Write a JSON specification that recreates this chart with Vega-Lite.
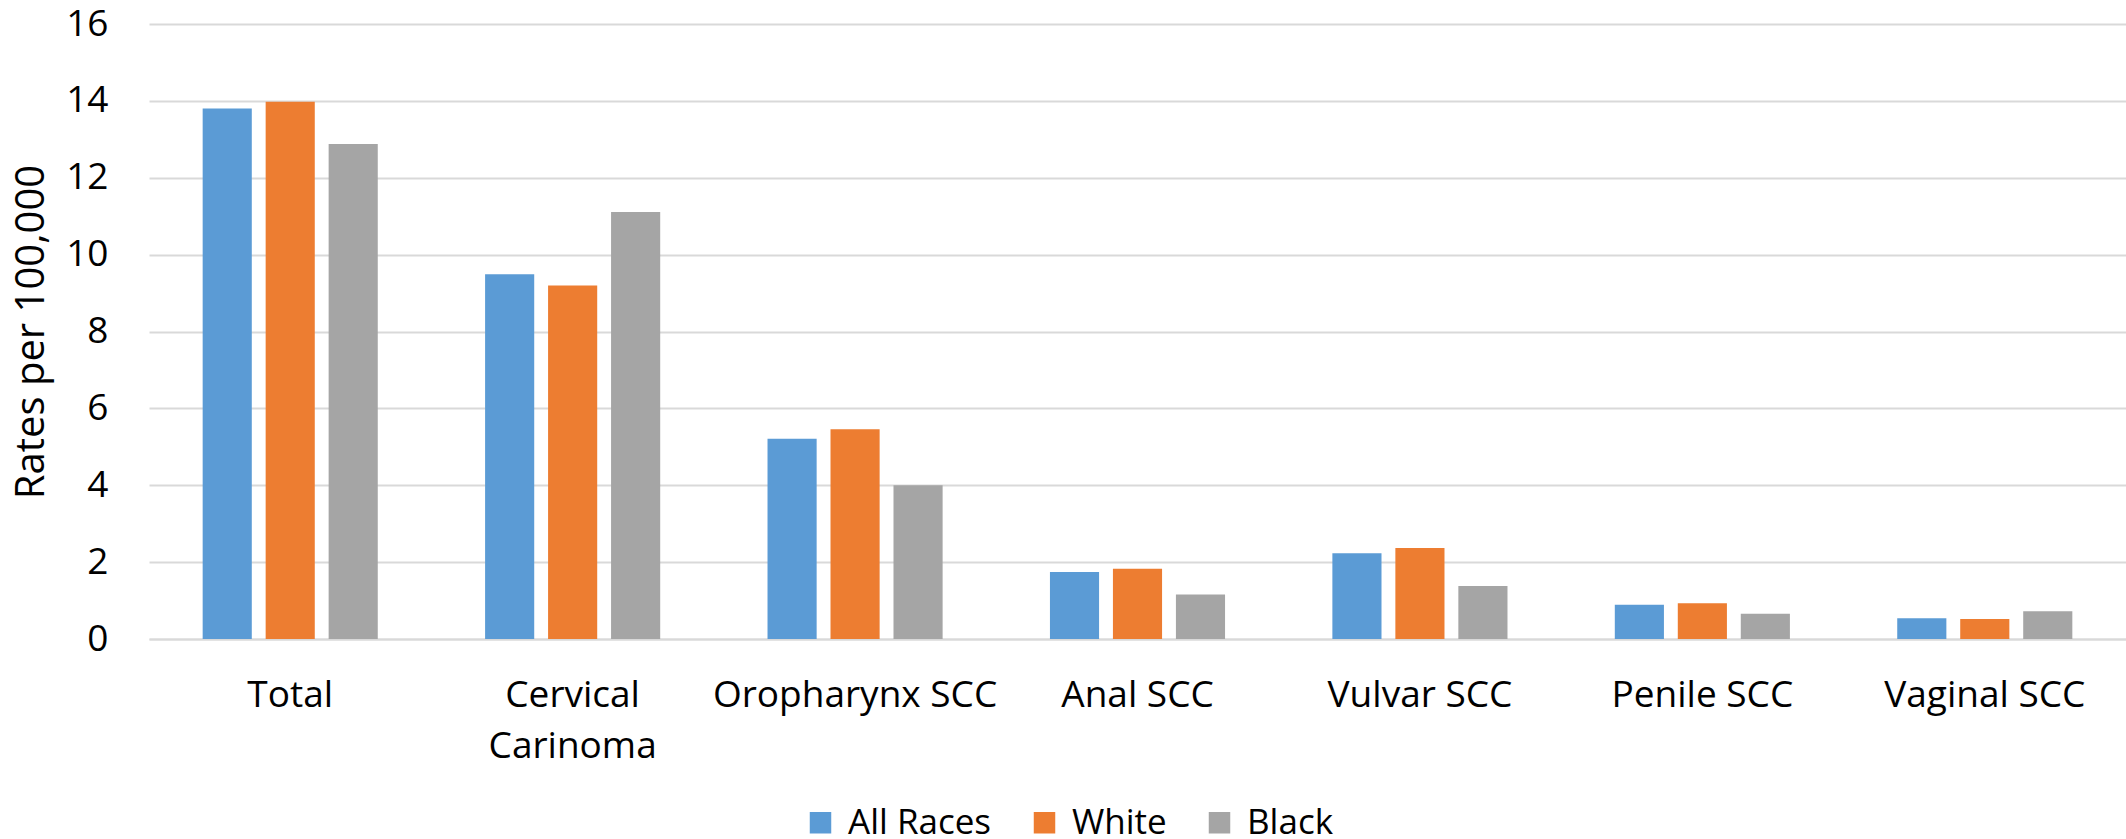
{
  "$schema": "https://vega.github.io/schema/vega-lite/v6.json",
  "width": 1977,
  "height": 615,
  "autosize": {"type": "none"},
  "padding": {"left": 149, "top": 24, "right": 0, "bottom": 200},
  "background": "white",
  "config": {"view": {"stroke": null}, "font": "Open Sans"},
  "data": {"values": [
    {"cat": "Total", "race": "All Races", "rate": 13.8},
    {"cat": "Total", "race": "White", "rate": 13.98},
    {"cat": "Total", "race": "Black", "rate": 12.88},
    {"cat": "Cervical Carinoma", "race": "All Races", "rate": 9.49},
    {"cat": "Cervical Carinoma", "race": "White", "rate": 9.2},
    {"cat": "Cervical Carinoma", "race": "Black", "rate": 11.11},
    {"cat": "Oropharynx SCC", "race": "All Races", "rate": 5.21},
    {"cat": "Oropharynx SCC", "race": "White", "rate": 5.46},
    {"cat": "Oropharynx SCC", "race": "Black", "rate": 4.0},
    {"cat": "Anal SCC", "race": "All Races", "rate": 1.74},
    {"cat": "Anal SCC", "race": "White", "rate": 1.83},
    {"cat": "Anal SCC", "race": "Black", "rate": 1.16},
    {"cat": "Vulvar SCC", "race": "All Races", "rate": 2.23},
    {"cat": "Vulvar SCC", "race": "White", "rate": 2.37},
    {"cat": "Vulvar SCC", "race": "Black", "rate": 1.38},
    {"cat": "Penile SCC", "race": "All Races", "rate": 0.89},
    {"cat": "Penile SCC", "race": "White", "rate": 0.93},
    {"cat": "Penile SCC", "race": "Black", "rate": 0.66},
    {"cat": "Vaginal SCC", "race": "All Races", "rate": 0.54},
    {"cat": "Vaginal SCC", "race": "White", "rate": 0.52},
    {"cat": "Vaginal SCC", "race": "Black", "rate": 0.72}
  ]},
  "mark": {"type": "bar"},
  "encoding": {
    "x": {
      "field": "cat", "type": "nominal", "sort": null,
      "scale": {"paddingInner": 0.38, "paddingOuter": 0.19},
      "axis": {
        "title": null, "labelAngle": 0, "ticks": false,
        "domainColor": "#d9d9d9", "domainWidth": 2,
        "labelFontSize": 37, "labelColor": "#000000", "labelPadding": 38,
        "labelLineHeight": 51, "labelLimit": 500,
        "labelExpr": "datum.label == 'Cervical Carinoma' ? ['Cervical', 'Carinoma'] : datum.label"
      }
    },
    "xOffset": {
      "field": "race", "type": "nominal", "sort": ["All Races", "White", "Black"],
      "scale": {"paddingInner": 0.22, "paddingOuter": 0}
    },
    "y": {
      "field": "rate", "type": "quantitative",
      "scale": {"domain": [0, 16]},
      "axis": {
        "title": "Rates per 100,000", "titleFontSize": 40, "titleFontWeight": "normal",
        "titleColor": "#000000", "titlePadding": 14,
        "values": [0, 2, 4, 6, 8, 10, 12, 14, 16], "labelOverlap": false,
        "ticks": false, "domain": false,
        "gridColor": "#d9d9d9", "gridWidth": 2,
        "labelFontSize": 37, "labelColor": "#000000", "labelPadding": 41
      }
    },
    "color": {
      "field": "race", "type": "nominal",
      "scale": {"domain": ["All Races", "White", "Black"], "range": ["#5B9BD5", "#ED7D31", "#A5A5A5"]},
      "legend": {
        "title": null, "orient": "none", "direction": "horizontal",
        "legendX": 654, "legendY": 781,
        "symbolType": "square", "symbolSize": 462, "symbolStrokeWidth": 0,
        "labelFontSize": 35, "labelColor": "#000000", "labelOffset": 10,
        "labelLimit": 400, "columnPadding": 35
      }
    }
  }
}
